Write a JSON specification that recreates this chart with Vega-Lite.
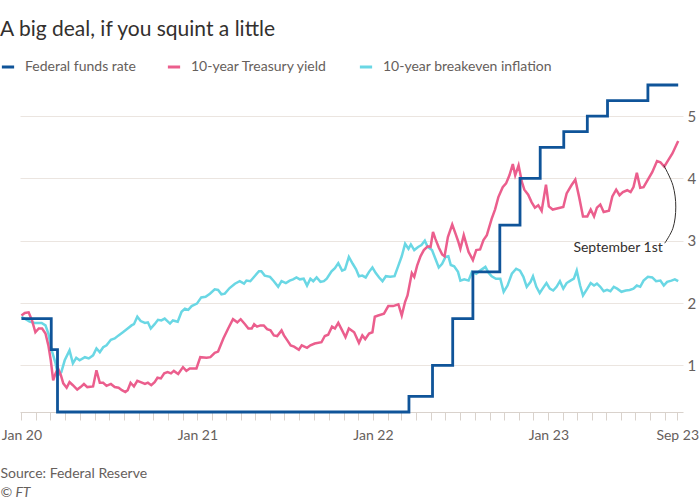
{
  "$schema": "https://vega.github.io/schema/vega-lite/v6.json",
  "width": 663,
  "height": 327,
  "autosize": {"type": "none"},
  "padding": {"left": 20, "top": 85, "right": 17, "bottom": 88},
  "background": "white",
  "config": {
    "font": "Lato",
    "view": {"stroke": null},
    "legend": {"padding": 0}
  },
  "title": {
    "text": "A big deal, if you squint a little",
    "anchor": "start",
    "frame": "group",
    "dx": -20,
    "offset": 19,
    "fontSize": 21,
    "fontWeight": "normal",
    "font": "Lato",
    "color": "#33302e"
  },
  "datasets": {
    "ffr": [
      {"date": "2020-01-01", "value": 1.75},
      {"date": "2020-03-03", "value": 1.25},
      {"date": "2020-03-16", "value": 0.25},
      {"date": "2022-03-17", "value": 0.5},
      {"date": "2022-05-05", "value": 1.0},
      {"date": "2022-06-16", "value": 1.75},
      {"date": "2022-07-28", "value": 2.5},
      {"date": "2022-09-22", "value": 3.25},
      {"date": "2022-11-03", "value": 4.0},
      {"date": "2022-12-15", "value": 4.5},
      {"date": "2023-02-02", "value": 4.75},
      {"date": "2023-03-23", "value": 5.0},
      {"date": "2023-05-04", "value": 5.25},
      {"date": "2023-07-27", "value": 5.5},
      {"date": "2023-09-28", "value": 5.5}
    ],
    "tsy": [
      {"date": "2020-01-01", "value": 1.80}, {"date": "2020-01-08", "value": 1.84}, {"date": "2020-01-16", "value": 1.85}, {"date": "2020-01-23", "value": 1.72},
      {"date": "2020-01-30", "value": 1.53}, {"date": "2020-02-06", "value": 1.59}, {"date": "2020-02-13", "value": 1.59}, {"date": "2020-02-20", "value": 1.51},
      {"date": "2020-02-26", "value": 1.32}, {"date": "2020-03-02", "value": 1.08}, {"date": "2020-03-07", "value": 0.76}, {"date": "2020-03-12", "value": 0.87},
      {"date": "2020-03-17", "value": 0.95}, {"date": "2020-03-23", "value": 0.84}, {"date": "2020-03-28", "value": 0.71}, {"date": "2020-04-04", "value": 0.64},
      {"date": "2020-04-10", "value": 0.73}, {"date": "2020-04-17", "value": 0.68}, {"date": "2020-04-26", "value": 0.61}, {"date": "2020-05-03", "value": 0.65},
      {"date": "2020-05-10", "value": 0.70}, {"date": "2020-05-17", "value": 0.65}, {"date": "2020-05-29", "value": 0.66}, {"date": "2020-06-05", "value": 0.92},
      {"date": "2020-06-12", "value": 0.72}, {"date": "2020-06-19", "value": 0.72}, {"date": "2020-06-26", "value": 0.67}, {"date": "2020-07-05", "value": 0.70},
      {"date": "2020-07-13", "value": 0.65}, {"date": "2020-07-21", "value": 0.64}, {"date": "2020-07-28", "value": 0.60}, {"date": "2020-08-04", "value": 0.57},
      {"date": "2020-08-09", "value": 0.60}, {"date": "2020-08-15", "value": 0.72}, {"date": "2020-08-22", "value": 0.66}, {"date": "2020-08-29", "value": 0.75},
      {"date": "2020-09-05", "value": 0.73}, {"date": "2020-09-14", "value": 0.70}, {"date": "2020-09-20", "value": 0.72}, {"date": "2020-09-27", "value": 0.68},
      {"date": "2020-10-04", "value": 0.73}, {"date": "2020-10-10", "value": 0.80}, {"date": "2020-10-17", "value": 0.79}, {"date": "2020-10-24", "value": 0.87},
      {"date": "2020-10-31", "value": 0.89}, {"date": "2020-11-07", "value": 0.87}, {"date": "2020-11-13", "value": 0.91}, {"date": "2020-11-22", "value": 0.86},
      {"date": "2020-12-02", "value": 0.97}, {"date": "2020-12-09", "value": 0.91}, {"date": "2020-12-16", "value": 0.95}, {"date": "2020-12-30", "value": 0.95},
      {"date": "2021-01-07", "value": 1.13}, {"date": "2021-01-20", "value": 1.12}, {"date": "2021-01-28", "value": 1.13}, {"date": "2021-02-06", "value": 1.20},
      {"date": "2021-02-13", "value": 1.22}, {"date": "2021-02-24", "value": 1.43}, {"date": "2021-03-06", "value": 1.59}, {"date": "2021-03-16", "value": 1.74},
      {"date": "2021-03-25", "value": 1.69}, {"date": "2021-04-01", "value": 1.74}, {"date": "2021-04-10", "value": 1.66}, {"date": "2021-04-17", "value": 1.59},
      {"date": "2021-04-24", "value": 1.59}, {"date": "2021-04-29", "value": 1.66}, {"date": "2021-05-05", "value": 1.62}, {"date": "2021-05-12", "value": 1.64},
      {"date": "2021-05-19", "value": 1.64}, {"date": "2021-05-26", "value": 1.58}, {"date": "2021-06-02", "value": 1.56}, {"date": "2021-06-09", "value": 1.48},
      {"date": "2021-06-16", "value": 1.47}, {"date": "2021-06-25", "value": 1.56}, {"date": "2021-06-30", "value": 1.48}, {"date": "2021-07-07", "value": 1.40},
      {"date": "2021-07-14", "value": 1.32}, {"date": "2021-07-21", "value": 1.30}, {"date": "2021-07-31", "value": 1.25}, {"date": "2021-08-06", "value": 1.32},
      {"date": "2021-08-17", "value": 1.28}, {"date": "2021-08-24", "value": 1.32}, {"date": "2021-09-02", "value": 1.35}, {"date": "2021-09-16", "value": 1.37},
      {"date": "2021-09-23", "value": 1.47}, {"date": "2021-09-30", "value": 1.49}, {"date": "2021-10-08", "value": 1.62}, {"date": "2021-10-14", "value": 1.59},
      {"date": "2021-10-21", "value": 1.68}, {"date": "2021-10-29", "value": 1.56}, {"date": "2021-11-05", "value": 1.45}, {"date": "2021-11-12", "value": 1.59},
      {"date": "2021-11-23", "value": 1.53}, {"date": "2021-12-03", "value": 1.36}, {"date": "2021-12-10", "value": 1.48}, {"date": "2021-12-16", "value": 1.42},
      {"date": "2021-12-24", "value": 1.51}, {"date": "2021-12-31", "value": 1.53}, {"date": "2022-01-05", "value": 1.78}, {"date": "2022-01-12", "value": 1.80},
      {"date": "2022-01-24", "value": 1.83}, {"date": "2022-02-02", "value": 1.95}, {"date": "2022-02-12", "value": 1.95}, {"date": "2022-02-23", "value": 1.98},
      {"date": "2022-03-02", "value": 1.80}, {"date": "2022-03-09", "value": 2.02}, {"date": "2022-03-14", "value": 2.12}, {"date": "2022-03-23", "value": 2.48},
      {"date": "2022-03-28", "value": 2.42}, {"date": "2022-04-03", "value": 2.60}, {"date": "2022-04-10", "value": 2.75}, {"date": "2022-04-17", "value": 2.85},
      {"date": "2022-04-25", "value": 2.91}, {"date": "2022-05-01", "value": 2.90}, {"date": "2022-05-06", "value": 3.14}, {"date": "2022-05-11", "value": 3.03},
      {"date": "2022-05-18", "value": 2.89}, {"date": "2022-05-25", "value": 2.78}, {"date": "2022-05-30", "value": 2.75}, {"date": "2022-06-06", "value": 3.06},
      {"date": "2022-06-15", "value": 3.26}, {"date": "2022-06-22", "value": 3.11}, {"date": "2022-06-27", "value": 3.00}, {"date": "2022-07-02", "value": 2.87},
      {"date": "2022-07-09", "value": 3.09}, {"date": "2022-07-19", "value": 2.82}, {"date": "2022-07-28", "value": 2.69}, {"date": "2022-08-04", "value": 2.85},
      {"date": "2022-08-12", "value": 2.86}, {"date": "2022-08-19", "value": 3.01}, {"date": "2022-08-26", "value": 3.09}, {"date": "2022-09-05", "value": 3.35},
      {"date": "2022-09-12", "value": 3.50}, {"date": "2022-09-19", "value": 3.70}, {"date": "2022-09-28", "value": 3.86}, {"date": "2022-10-05", "value": 3.92},
      {"date": "2022-10-12", "value": 4.05}, {"date": "2022-10-19", "value": 4.23}, {"date": "2022-10-24", "value": 4.05}, {"date": "2022-10-31", "value": 4.21},
      {"date": "2022-11-07", "value": 3.94}, {"date": "2022-11-12", "value": 3.82}, {"date": "2022-11-20", "value": 3.74}, {"date": "2022-11-27", "value": 3.62},
      {"date": "2022-12-04", "value": 3.53}, {"date": "2022-12-11", "value": 3.57}, {"date": "2022-12-18", "value": 3.48}, {"date": "2022-12-27", "value": 3.90},
      {"date": "2023-01-02", "value": 3.55}, {"date": "2023-01-10", "value": 3.50}, {"date": "2023-01-21", "value": 3.52}, {"date": "2023-02-01", "value": 3.54},
      {"date": "2023-02-08", "value": 3.76}, {"date": "2023-02-18", "value": 3.89}, {"date": "2023-02-26", "value": 3.98}, {"date": "2023-03-06", "value": 3.70},
      {"date": "2023-03-14", "value": 3.39}, {"date": "2023-03-23", "value": 3.39}, {"date": "2023-03-30", "value": 3.50}, {"date": "2023-04-06", "value": 3.39},
      {"date": "2023-04-12", "value": 3.53}, {"date": "2023-04-19", "value": 3.58}, {"date": "2023-04-26", "value": 3.46}, {"date": "2023-05-07", "value": 3.48},
      {"date": "2023-05-14", "value": 3.71}, {"date": "2023-05-22", "value": 3.82}, {"date": "2023-05-29", "value": 3.73}, {"date": "2023-06-05", "value": 3.78},
      {"date": "2023-06-14", "value": 3.81}, {"date": "2023-06-21", "value": 3.78}, {"date": "2023-06-27", "value": 3.86}, {"date": "2023-07-04", "value": 4.09},
      {"date": "2023-07-11", "value": 3.85}, {"date": "2023-07-18", "value": 3.86}, {"date": "2023-07-27", "value": 3.98}, {"date": "2023-08-05", "value": 4.10},
      {"date": "2023-08-15", "value": 4.28}, {"date": "2023-08-22", "value": 4.26}, {"date": "2023-08-30", "value": 4.19}, {"date": "2023-09-07", "value": 4.29},
      {"date": "2023-09-16", "value": 4.40}, {"date": "2023-09-28", "value": 4.60}
    ],
    "bei": [
      {"date": "2020-01-01", "value": 1.78}, {"date": "2020-01-18", "value": 1.70}, {"date": "2020-01-29", "value": 1.68}, {"date": "2020-02-12", "value": 1.68},
      {"date": "2020-02-20", "value": 1.64}, {"date": "2020-02-26", "value": 1.51}, {"date": "2020-03-04", "value": 1.24}, {"date": "2020-03-12", "value": 1.03},
      {"date": "2020-03-17", "value": 0.84}, {"date": "2020-03-24", "value": 0.89}, {"date": "2020-03-31", "value": 1.08}, {"date": "2020-04-10", "value": 1.24},
      {"date": "2020-04-17", "value": 1.03}, {"date": "2020-04-24", "value": 1.12}, {"date": "2020-05-01", "value": 1.08}, {"date": "2020-05-12", "value": 1.13},
      {"date": "2020-05-20", "value": 1.11}, {"date": "2020-05-29", "value": 1.16}, {"date": "2020-06-05", "value": 1.27}, {"date": "2020-06-12", "value": 1.21},
      {"date": "2020-06-19", "value": 1.29}, {"date": "2020-06-26", "value": 1.32}, {"date": "2020-07-05", "value": 1.41}, {"date": "2020-07-13", "value": 1.43},
      {"date": "2020-07-21", "value": 1.48}, {"date": "2020-07-30", "value": 1.53}, {"date": "2020-08-09", "value": 1.59}, {"date": "2020-08-17", "value": 1.64},
      {"date": "2020-08-22", "value": 1.66}, {"date": "2020-08-29", "value": 1.78}, {"date": "2020-09-05", "value": 1.71}, {"date": "2020-09-14", "value": 1.68},
      {"date": "2020-09-20", "value": 1.69}, {"date": "2020-09-26", "value": 1.59}, {"date": "2020-10-04", "value": 1.66}, {"date": "2020-10-11", "value": 1.73},
      {"date": "2020-10-18", "value": 1.72}, {"date": "2020-10-25", "value": 1.75}, {"date": "2020-11-05", "value": 1.67}, {"date": "2020-11-11", "value": 1.72},
      {"date": "2020-11-21", "value": 1.70}, {"date": "2020-11-29", "value": 1.86}, {"date": "2020-12-06", "value": 1.91}, {"date": "2020-12-13", "value": 1.89},
      {"date": "2020-12-20", "value": 1.95}, {"date": "2020-12-31", "value": 1.99}, {"date": "2021-01-09", "value": 2.09}, {"date": "2021-01-18", "value": 2.10},
      {"date": "2021-01-27", "value": 2.15}, {"date": "2021-02-06", "value": 2.22}, {"date": "2021-02-13", "value": 2.21}, {"date": "2021-02-20", "value": 2.14},
      {"date": "2021-02-27", "value": 2.15}, {"date": "2021-03-09", "value": 2.24}, {"date": "2021-03-20", "value": 2.31}, {"date": "2021-03-30", "value": 2.35},
      {"date": "2021-04-08", "value": 2.31}, {"date": "2021-04-13", "value": 2.36}, {"date": "2021-04-21", "value": 2.35}, {"date": "2021-04-30", "value": 2.43},
      {"date": "2021-05-09", "value": 2.51}, {"date": "2021-05-14", "value": 2.51}, {"date": "2021-05-21", "value": 2.44}, {"date": "2021-06-01", "value": 2.42},
      {"date": "2021-06-09", "value": 2.35}, {"date": "2021-06-18", "value": 2.26}, {"date": "2021-06-25", "value": 2.35}, {"date": "2021-07-04", "value": 2.32},
      {"date": "2021-07-12", "value": 2.36}, {"date": "2021-07-19", "value": 2.38}, {"date": "2021-07-26", "value": 2.41}, {"date": "2021-08-02", "value": 2.38},
      {"date": "2021-08-10", "value": 2.39}, {"date": "2021-08-17", "value": 2.28}, {"date": "2021-08-24", "value": 2.39}, {"date": "2021-08-30", "value": 2.35},
      {"date": "2021-09-06", "value": 2.41}, {"date": "2021-09-14", "value": 2.34}, {"date": "2021-09-21", "value": 2.35}, {"date": "2021-09-27", "value": 2.39},
      {"date": "2021-10-07", "value": 2.51}, {"date": "2021-10-14", "value": 2.56}, {"date": "2021-10-21", "value": 2.64}, {"date": "2021-10-29", "value": 2.52},
      {"date": "2021-11-04", "value": 2.54}, {"date": "2021-11-12", "value": 2.74}, {"date": "2021-11-20", "value": 2.63}, {"date": "2021-11-27", "value": 2.54},
      {"date": "2021-12-03", "value": 2.43}, {"date": "2021-12-10", "value": 2.44}, {"date": "2021-12-17", "value": 2.41}, {"date": "2021-12-24", "value": 2.50},
      {"date": "2021-12-31", "value": 2.57}, {"date": "2022-01-07", "value": 2.48}, {"date": "2022-01-14", "value": 2.41}, {"date": "2022-01-21", "value": 2.35},
      {"date": "2022-01-28", "value": 2.43}, {"date": "2022-02-06", "value": 2.42}, {"date": "2022-02-15", "value": 2.43}, {"date": "2022-02-23", "value": 2.60},
      {"date": "2022-03-02", "value": 2.75}, {"date": "2022-03-09", "value": 2.95}, {"date": "2022-03-16", "value": 2.87}, {"date": "2022-03-21", "value": 2.94},
      {"date": "2022-03-28", "value": 2.85}, {"date": "2022-04-05", "value": 2.90}, {"date": "2022-04-12", "value": 2.93}, {"date": "2022-04-19", "value": 3.00},
      {"date": "2022-04-25", "value": 2.90}, {"date": "2022-05-04", "value": 2.85}, {"date": "2022-05-11", "value": 2.71}, {"date": "2022-05-18", "value": 2.57},
      {"date": "2022-05-25", "value": 2.63}, {"date": "2022-06-01", "value": 2.74}, {"date": "2022-06-07", "value": 2.75}, {"date": "2022-06-12", "value": 2.61},
      {"date": "2022-06-19", "value": 2.59}, {"date": "2022-06-27", "value": 2.50}, {"date": "2022-07-02", "value": 2.36}, {"date": "2022-07-10", "value": 2.38},
      {"date": "2022-07-19", "value": 2.36}, {"date": "2022-07-26", "value": 2.50}, {"date": "2022-08-04", "value": 2.47}, {"date": "2022-08-12", "value": 2.52},
      {"date": "2022-08-23", "value": 2.58}, {"date": "2022-08-30", "value": 2.48}, {"date": "2022-09-05", "value": 2.43}, {"date": "2022-09-14", "value": 2.39},
      {"date": "2022-09-23", "value": 2.39}, {"date": "2022-09-30", "value": 2.18}, {"date": "2022-10-08", "value": 2.28}, {"date": "2022-10-17", "value": 2.47},
      {"date": "2022-10-26", "value": 2.55}, {"date": "2022-11-03", "value": 2.52}, {"date": "2022-11-10", "value": 2.42}, {"date": "2022-11-17", "value": 2.26},
      {"date": "2022-11-25", "value": 2.34}, {"date": "2022-11-30", "value": 2.43}, {"date": "2022-12-07", "value": 2.26}, {"date": "2022-12-14", "value": 2.16},
      {"date": "2022-12-20", "value": 2.23}, {"date": "2022-12-28", "value": 2.32}, {"date": "2023-01-04", "value": 2.23}, {"date": "2023-01-11", "value": 2.20},
      {"date": "2023-01-18", "value": 2.26}, {"date": "2023-01-25", "value": 2.35}, {"date": "2023-02-01", "value": 2.23}, {"date": "2023-02-08", "value": 2.32},
      {"date": "2023-02-16", "value": 2.36}, {"date": "2023-02-23", "value": 2.39}, {"date": "2023-03-01", "value": 2.52}, {"date": "2023-03-08", "value": 2.28},
      {"date": "2023-03-14", "value": 2.12}, {"date": "2023-03-23", "value": 2.23}, {"date": "2023-03-30", "value": 2.32}, {"date": "2023-04-06", "value": 2.28},
      {"date": "2023-04-12", "value": 2.31}, {"date": "2023-04-19", "value": 2.26}, {"date": "2023-04-26", "value": 2.19}, {"date": "2023-05-03", "value": 2.21},
      {"date": "2023-05-10", "value": 2.19}, {"date": "2023-05-17", "value": 2.26}, {"date": "2023-05-24", "value": 2.23}, {"date": "2023-06-02", "value": 2.18},
      {"date": "2023-06-11", "value": 2.20}, {"date": "2023-06-19", "value": 2.21}, {"date": "2023-06-27", "value": 2.23}, {"date": "2023-07-04", "value": 2.28},
      {"date": "2023-07-11", "value": 2.26}, {"date": "2023-07-18", "value": 2.36}, {"date": "2023-07-27", "value": 2.42}, {"date": "2023-08-05", "value": 2.41},
      {"date": "2023-08-13", "value": 2.35}, {"date": "2023-08-22", "value": 2.36}, {"date": "2023-08-29", "value": 2.28}, {"date": "2023-09-05", "value": 2.34},
      {"date": "2023-09-14", "value": 2.36}, {"date": "2023-09-21", "value": 2.38}, {"date": "2023-09-28", "value": 2.35}
    ],
    "arc": [
      {"i": 0, "date": "2023-08-29", "value": 4.21},
      {"i": 1, "date": "2023-09-17", "value": 3.89},
      {"i": 2, "date": "2023-09-23", "value": 3.54},
      {"i": 3, "date": "2023-09-17", "value": 3.20},
      {"i": 4, "date": "2023-08-31", "value": 2.96}
    ],
    "note": [
      {"date": "2023-08-27", "value": 2.88, "label": "September 1st"}
    ]
  },
  "encoding": {
    "x": {
      "field": "date",
      "type": "temporal",
      "scale": {
        "domain": [
          {"year": 2019, "month": 12, "date": 29, "utc": true},
          {"year": 2023, "month": 10, "date": 8, "utc": true}
        ]
      },
      "axis": {
        "title": "Source: Federal Reserve",
        "titleX": -20,
        "titleY": 61,
        "titleAlign": "left",
        "titleAnchor": null,
        "titleBaseline": "middle",
        "titleFontSize": 14,
        "titleFontWeight": "normal",
        "titleColor": "#66605c",
        "grid": false,
        "domainColor": "#d9d2cc",
        "tickColor": "#d9d2cc",
        "tickSize": 8,
        "labelPadding": 8,
        "labelFontSize": 14,
        "labelColor": "#66605c",
        "labelOverlap": false,
        "labelBound": false,
        "labelFlush": false,
        "values": [
          {"year": 2020, "month": 1, "date": 1, "utc": true}, {"year": 2020, "month": 2, "date": 1, "utc": true}, {"year": 2020, "month": 3, "date": 1, "utc": true},
          {"year": 2020, "month": 4, "date": 1, "utc": true}, {"year": 2020, "month": 5, "date": 1, "utc": true}, {"year": 2020, "month": 6, "date": 1, "utc": true},
          {"year": 2020, "month": 7, "date": 1, "utc": true}, {"year": 2020, "month": 8, "date": 1, "utc": true}, {"year": 2020, "month": 9, "date": 1, "utc": true},
          {"year": 2020, "month": 10, "date": 1, "utc": true}, {"year": 2020, "month": 11, "date": 1, "utc": true}, {"year": 2020, "month": 12, "date": 1, "utc": true},
          {"year": 2021, "month": 1, "date": 1, "utc": true}, {"year": 2021, "month": 2, "date": 1, "utc": true}, {"year": 2021, "month": 3, "date": 1, "utc": true},
          {"year": 2021, "month": 4, "date": 1, "utc": true}, {"year": 2021, "month": 5, "date": 1, "utc": true}, {"year": 2021, "month": 6, "date": 1, "utc": true},
          {"year": 2021, "month": 7, "date": 1, "utc": true}, {"year": 2021, "month": 8, "date": 1, "utc": true}, {"year": 2021, "month": 9, "date": 1, "utc": true},
          {"year": 2021, "month": 10, "date": 1, "utc": true}, {"year": 2021, "month": 11, "date": 1, "utc": true}, {"year": 2021, "month": 12, "date": 1, "utc": true},
          {"year": 2022, "month": 1, "date": 1, "utc": true}, {"year": 2022, "month": 2, "date": 1, "utc": true}, {"year": 2022, "month": 3, "date": 1, "utc": true},
          {"year": 2022, "month": 4, "date": 1, "utc": true}, {"year": 2022, "month": 5, "date": 1, "utc": true}, {"year": 2022, "month": 6, "date": 1, "utc": true},
          {"year": 2022, "month": 7, "date": 1, "utc": true}, {"year": 2022, "month": 8, "date": 1, "utc": true}, {"year": 2022, "month": 9, "date": 1, "utc": true},
          {"year": 2022, "month": 10, "date": 1, "utc": true}, {"year": 2022, "month": 11, "date": 1, "utc": true}, {"year": 2022, "month": 12, "date": 1, "utc": true},
          {"year": 2023, "month": 1, "date": 1, "utc": true}, {"year": 2023, "month": 2, "date": 1, "utc": true}, {"year": 2023, "month": 3, "date": 1, "utc": true},
          {"year": 2023, "month": 4, "date": 1, "utc": true}, {"year": 2023, "month": 5, "date": 1, "utc": true}, {"year": 2023, "month": 6, "date": 1, "utc": true},
          {"year": 2023, "month": 7, "date": 1, "utc": true}, {"year": 2023, "month": 8, "date": 1, "utc": true}, {"year": 2023, "month": 9, "date": 1, "utc": true},
          {"year": 2023, "month": 9, "date": 26, "utc": true}
        ],
        "labelExpr": "utcmonth(datum.value) == 0 ? utcFormat(datum.value, '%b %y') : (utcdate(datum.value) == 26 ? 'Sep 23' : '')"
      }
    },
    "y": {
      "field": "value",
      "type": "quantitative",
      "scale": {"domain": [0.25, 5.5], "nice": false, "zero": false},
      "axis": {
        "orient": "right",
        "values": [1, 2, 3, 4, 5],
        "grid": true,
        "gridColor": "#ebe5e0",
        "domain": false,
        "ticks": false,
        "labelPadding": 4,
        "labelFontSize": 15,
        "labelColor": "#66605c",
        "title": "© FT",
        "titleAngle": 0,
        "titleX": -683,
        "titleY": 407,
        "titleAlign": "left",
        "titleAnchor": null,
        "titleBaseline": "middle",
        "titleFontSize": 14,
        "titleFontWeight": "normal",
        "titleFontStyle": "italic",
        "titleColor": "#66605c"
      }
    }
  },
  "layer": [
    {
      "data": {"name": "bei"},
      "mark": {"type": "line", "strokeWidth": 2.5},
      "encoding": {
        "color": {
          "datum": "10-year breakeven inflation",
          "scale": {
            "domain": ["Federal funds rate", "10-year Treasury yield", "10-year breakeven inflation"],
            "range": ["#0f5499", "#eb5e8d", "#6ad7e4"]
          },
          "legend": {
            "title": null,
            "orient": "none",
            "direction": "horizontal",
            "legendX": -20,
            "legendY": -26,
            "symbolType": "stroke",
            "symbolStrokeWidth": 3,
            "symbolSize": 150,
            "labelFontSize": 14,
            "labelLimit": 400,
            "labelColor": "#66605c",
            "labelOffset": 9,
            "columnPadding": 25
          }
        }
      }
    },
    {
      "data": {"name": "tsy"},
      "mark": {"type": "line", "strokeWidth": 2.5},
      "encoding": {"color": {"datum": "10-year Treasury yield"}}
    },
    {
      "data": {"name": "ffr"},
      "mark": {"type": "line", "strokeWidth": 2.8, "interpolate": "step-after"},
      "encoding": {"color": {"datum": "Federal funds rate"}}
    },
    {
      "data": {"name": "arc"},
      "mark": {"type": "line", "stroke": "#33302e", "strokeWidth": 1, "interpolate": "catmull-rom"},
      "encoding": {"order": {"field": "i", "type": "quantitative"}}
    },
    {
      "data": {"name": "note"},
      "mark": {"type": "text", "align": "right", "baseline": "middle", "fontSize": 14, "color": "#33302e"},
      "encoding": {"text": {"field": "label"}}
    }
  ]
}
